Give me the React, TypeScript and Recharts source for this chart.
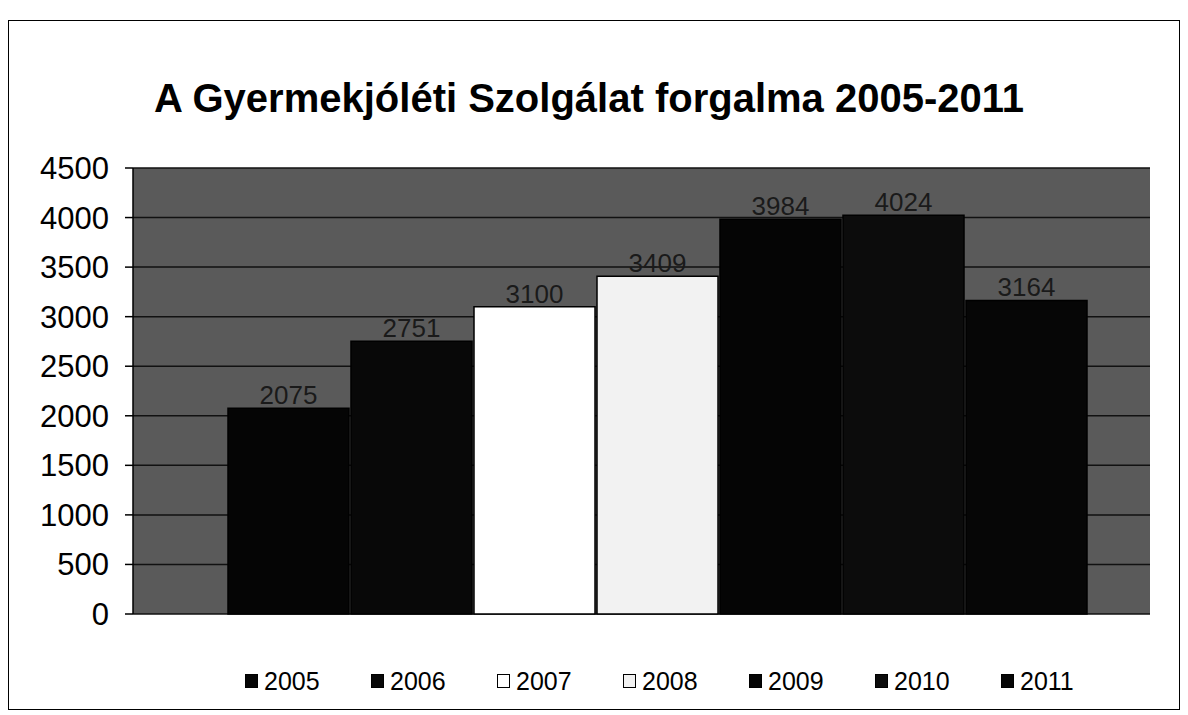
import { BarChart, Bar, XAxis, YAxis, CartesianGrid, Legend, LabelList } from "recharts";

const years = ["2005", "2006", "2007", "2008", "2009", "2010", "2011"];
const values = [2075, 2751, 3100, 3409, 3984, 4024, 3164];
const fills = ["#050505", "#080808", "#ffffff", "#f2f2f2", "#050505", "#0c0c0c", "#060606"];
const yTicks = [0, 500, 1000, 1500, 2000, 2500, 3000, 3500, 4000, 4500];

const row: Record<string, string | number> = { name: "forgalom" };
years.forEach((y, i) => {
  row[y] = values[i];
});
const data = [row];

const font = "'Liberation Sans', Arial, sans-serif";

function LegendRow(props: any) {
  const payload = props.payload || [];
  return (
    <div
      style={{
        display: "flex",
        justifyContent: "flex-start",
        paddingLeft: 236,
        paddingTop: 52,
        height: 95,
        boxSizing: "border-box",
        fontFamily: font,
      }}
    >
      {payload.map((p: any) => (
        <div
          key={p.value}
          style={{ display: "flex", alignItems: "center", width: 126, height: 30, fontSize: 25, color: "#000" }}
        >
          <span
            style={{
              display: "inline-block",
              width: 13,
              height: 14,
              background: p.color,
              border: "1.5px solid #000",
              boxSizing: "border-box",
              marginRight: 6,
            }}
          />
          {p.value}
        </div>
      ))}
    </div>
  );
}

export default function App() {
  return (
    <div
      style={{
        position: "relative",
        marginTop: 12,
        width: 1170,
        height: 688,
        border: "1px solid #000",
        background: "#fff",
      }}
    >
      <div
        style={{
          position: "absolute",
          top: 55,
          left: 0,
          width: 1170,
          textAlign: "center",
          fontFamily: font,
          fontWeight: "bold",
          fontSize: 40,
          color: "#000",
          paddingRight: 10,
          boxSizing: "border-box",
        }}
      >
        A Gyermekjóléti Szolgálat forgalma 2005-2011
      </div>
      <BarChart
        width={1170}
        height={688}
        data={data}
        margin={{ top: 147, right: 29, bottom: 0, left: 0 }}
        barCategoryGap={0}
        barGap={2}
      >
        <CartesianGrid vertical={false} fill="#5a5a5a" stroke="#111" strokeWidth={1.5} fillOpacity={1} />
        <XAxis dataKey="name" hide padding={{ left: 95, right: 60 }} />
        <YAxis
          domain={[0, 4500]}
          ticks={yTicks}
          interval={0}
          width={124}
          tickSize={8}
          tickMargin={16}
          axisLine={{ stroke: "#000", strokeWidth: 1.5 }}
          tickLine={{ stroke: "#000", strokeWidth: 1.5 }}
          tick={{ fontSize: 31, fill: "#000", fontFamily: font }}
        />
        <Legend verticalAlign="bottom" content={<LegendRow />} />
        {years.map((y, i) => (
          <Bar
            key={y}
            dataKey={y}
            fill={fills[i]}
            stroke="#000"
            strokeWidth={1.5}
            isAnimationActive={false}
          >
            <LabelList
              dataKey={y}
              position="top"
              offset={4}
              fill="#1a1a1a"
              fontSize={26}
              fontFamily={font}
            />
          </Bar>
        ))}
      </BarChart>
    </div>
  );
}
